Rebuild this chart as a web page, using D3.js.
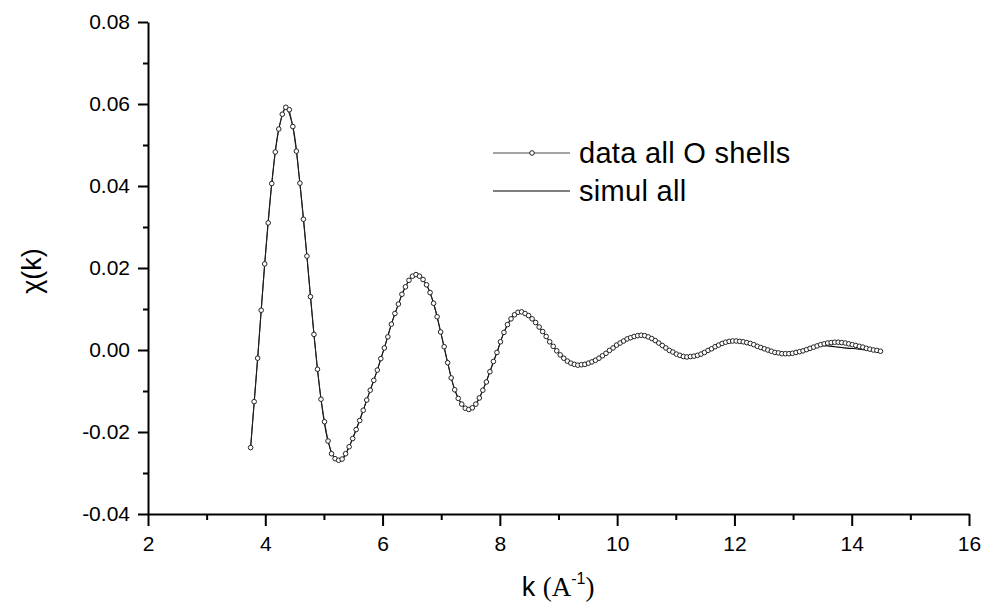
<!DOCTYPE html>
<html>
<head>
<meta charset="utf-8">
<script src="https://cdn.jsdelivr.net/npm/d3@7"></script>
<style>
  body { margin: 0; background: #fff; }
  text { font-family: "Liberation Sans", Arial, sans-serif; fill: #000; }
</style>
</head>
<body>
<script>
// measured data points, k in A^-1
var kData = [
  3.75, 3.81, 3.87, 3.93, 3.99, 4.05, 4.11, 4.17, 4.23, 4.29,
  4.35, 4.41, 4.47, 4.53, 4.59, 4.65, 4.71, 4.77, 4.83, 4.89,
  4.95, 5.01, 5.07, 5.13, 5.19, 5.25, 5.31, 5.37, 5.43, 5.49,
  5.55, 5.61, 5.67, 5.73, 5.79, 5.85, 5.91, 5.97, 6.03, 6.09,
  6.15, 6.21, 6.27, 6.33, 6.39, 6.45, 6.51, 6.57, 6.63, 6.69,
  6.75, 6.81, 6.87, 6.93, 6.99, 7.05, 7.11, 7.17, 7.23, 7.29,
  7.35, 7.41, 7.47, 7.53, 7.59, 7.65, 7.71, 7.77, 7.83, 7.89,
  7.95, 8.01, 8.07, 8.13, 8.19, 8.25, 8.31, 8.37, 8.43, 8.49,
  8.55, 8.61, 8.67, 8.73, 8.79, 8.85, 8.91, 8.97, 9.03, 9.09,
  9.15, 9.21, 9.27, 9.33, 9.39, 9.45, 9.51, 9.57, 9.63, 9.69,
  9.75, 9.81, 9.87, 9.93, 9.99, 10.05, 10.11, 10.17, 10.23, 10.29,
  10.35, 10.41, 10.47, 10.53, 10.59, 10.65, 10.71, 10.77, 10.83, 10.89,
  10.95, 11.01, 11.07, 11.13, 11.19, 11.25, 11.31, 11.37, 11.43, 11.49,
  11.55, 11.61, 11.67, 11.73, 11.79, 11.85, 11.91, 11.97, 12.03, 12.09,
  12.15, 12.21, 12.27, 12.33, 12.39, 12.45, 12.51, 12.57, 12.63, 12.69,
  12.75, 12.81, 12.87, 12.93, 12.99, 13.05, 13.11, 13.17, 13.23, 13.29,
  13.35, 13.41, 13.47, 13.53, 13.59, 13.65, 13.71, 13.77, 13.83, 13.89,
  13.95, 14.01, 14.07, 14.13, 14.19, 14.25, 14.31, 14.37, 14.43, 14.49
];

var chiData = [
  -0.0238, -0.0126, -0.0020, 0.0097, 0.0210, 0.0310, 0.0406, 0.0483, 0.0539, 0.0575,
  0.0592, 0.0586, 0.0545, 0.0485, 0.0407, 0.0319, 0.0229, 0.0130, 0.0038, -0.0047,
  -0.0120, -0.0175, -0.0222, -0.0253, -0.0265, -0.0269, -0.0266, -0.0253, -0.0236, -0.0216,
  -0.0194, -0.0172, -0.0147, -0.0122, -0.0098, -0.0074, -0.0049, -0.0021, 0.0005, 0.0032,
  0.0063, 0.0089, 0.0112, 0.0136, 0.0154, 0.0170, 0.0180, 0.0184, 0.0180, 0.0172,
  0.0159, 0.0140, 0.0114, 0.0081, 0.0044, 0.0008, -0.0031, -0.0068, -0.0097, -0.0118,
  -0.0132, -0.0142, -0.0145, -0.0141, -0.0132, -0.0117, -0.0098, -0.0078, -0.0053, -0.0028,
  -0.0006, 0.0020, 0.0043, 0.0062, 0.0076, 0.0086, 0.0092, 0.0093, 0.0089, 0.0084,
  0.0076, 0.0067, 0.0056, 0.0045, 0.0033, 0.0020, 0.0009, -0.0002, -0.0012, -0.0020,
  -0.0027, -0.0032, -0.0035, -0.0037, -0.0036, -0.0035, -0.0032, -0.0029, -0.0025, -0.0020,
  -0.0014, -0.0008, -0.0001, 0.0005, 0.0012, 0.0017, 0.0022, 0.0027, 0.0030, 0.0033,
  0.0035, 0.0036, 0.0035, 0.0032, 0.0028, 0.0023, 0.0017, 0.0011, 0.0005, -0.0001,
  -0.0005, -0.0010, -0.0013, -0.0016, -0.0017, -0.0016, -0.0015, -0.0013, -0.0010, -0.0006,
  -0.0001, 0.0003, 0.0008, 0.0012, 0.0016, 0.0019, 0.0021, 0.0022, 0.0022, 0.0021,
  0.0020, 0.0018, 0.0016, 0.0013, 0.0009, 0.0006, 0.0003, 0.0000, -0.0003, -0.0006,
  -0.0007, -0.0009, -0.0009, -0.0009, -0.0008, -0.0006, -0.0004, -0.0002, 0.0001, 0.0004,
  0.0007, 0.0010, 0.0013, 0.0015, 0.0017, 0.0018, 0.0019, 0.0019, 0.0018, 0.0017,
  0.0015, 0.0013, 0.0011, 0.0009, 0.0007, 0.0004, 0.0002, 0.0000, -0.0001, -0.0003
];

// simulation curve
var simulK = [
  3.75, 3.87, 3.99, 4.11, 4.23, 4.35, 4.47, 4.59, 4.71, 4.83,
  4.95, 5.07, 5.19, 5.31, 5.43, 5.55, 5.67, 5.79, 5.91, 6.03,
  6.15, 6.27, 6.39, 6.51, 6.63, 6.75, 6.87, 6.99, 7.11, 7.23,
  7.35, 7.47, 7.59, 7.71, 7.83, 7.95, 8.07, 8.19, 8.31, 8.43,
  8.55, 8.67, 8.79, 8.91, 9.03, 9.15, 9.27, 9.39, 9.51, 9.63,
  9.75, 9.87, 9.99, 10.11, 10.23, 10.35, 10.47, 10.59, 10.71, 10.83,
  10.95, 11.07, 11.19, 11.31, 11.43, 11.55, 11.67, 11.79, 11.91, 12.03,
  12.15, 12.27, 12.39, 12.51, 12.63, 12.75, 12.87, 12.99, 13.11, 13.23,
  13.35, 13.47, 13.59, 13.71, 13.83, 13.95, 14.07, 14.19, 14.31, 14.43,
  14.49
];

var simulChi = [
  -0.0238, -0.0020, 0.0210, 0.0406, 0.0539, 0.0592, 0.0545, 0.0407, 0.0229, 0.0038,
  -0.0120, -0.0222, -0.0265, -0.0266, -0.0236, -0.0194, -0.0147, -0.0098, -0.0049, 0.0005,
  0.0063, 0.0112, 0.0154, 0.0180, 0.0180, 0.0159, 0.0114, 0.0044, -0.0031, -0.0097,
  -0.0132, -0.0145, -0.0132, -0.0098, -0.0053, -0.0006, 0.0043, 0.0076, 0.0092, 0.0089,
  0.0076, 0.0056, 0.0033, 0.0009, -0.0012, -0.0027, -0.0035, -0.0036, -0.0032, -0.0025,
  -0.0014, -0.0001, 0.0012, 0.0022, 0.0030, 0.0035, 0.0035, 0.0028, 0.0017, 0.0005,
  -0.0005, -0.0013, -0.0017, -0.0015, -0.0010, -0.0001, 0.0008, 0.0016, 0.0021, 0.0022,
  0.0020, 0.0016, 0.0009, 0.0003, -0.0003, -0.0007, -0.0009, -0.0008, -0.0004, 0.0001,
  0.0006, 0.0010, 0.0010, 0.0008, 0.0006, 0.0004, 0.0003, 0.0001, 0.0000, -0.0002,
  -0.0003
];

var xTicks = [2, 4, 6, 8, 10, 12, 14, 16];
var xMinorTicks = [3, 5, 7, 9, 11, 13, 15];
var yTicks = [-0.04, -0.02, 0.00, 0.02, 0.04, 0.06, 0.08];
var yMinorTicks = [-0.03, -0.01, 0.01, 0.03, 0.05, 0.07];
var legendLabels = ["data all O shells", "simul all"];

var ChiPlot = (function() {

  var width = 982;
  var height = 602;
  var plotLeft = 148, plotRight = 969, plotTop = 22, plotBottom = 514;

  // plain hyphen for negatives, like the original labels
  var yFormat = function(d) {
    return d3.format(".2f")(d).replace("\u2212", "-");
  };

  var init = function() {
    var svg = d3.select("body")
                .append("svg")
                .attr("width", width)
                .attr("height", height);

    var x = d3.scaleLinear().domain([2, 16]).range([plotLeft, plotRight]);
    var y = d3.scaleLinear().domain([-0.04, 0.08]).range([plotBottom, plotTop]);

    // axes
    svg.append("g")
        .attr("transform", "translate(0," + plotBottom + ")")
        .call(d3.axisBottom(x).tickValues(xTicks).tickSize(12).tickSizeOuter(0)
              .tickPadding(10).tickFormat(d3.format("d")));
    svg.append("g")
        .attr("transform", "translate(0," + plotBottom + ")")
        .call(d3.axisBottom(x).tickValues(xMinorTicks).tickSize(6).tickFormat(""))
        .call(function(g) { g.select(".domain").remove(); });

    svg.append("g")
        .attr("transform", "translate(" + plotLeft + ",0)")
        .call(d3.axisLeft(y).tickValues(yTicks).tickSize(10).tickSizeOuter(0)
              .tickPadding(8).tickFormat(yFormat));
    svg.append("g")
        .attr("transform", "translate(" + plotLeft + ",0)")
        .call(d3.axisLeft(y).tickValues(yMinorTicks).tickSize(5).tickFormat(""))
        .call(function(g) { g.select(".domain").remove(); });

    svg.selectAll(".domain, .tick line")
        .attr("stroke", "#000")
        .attr("stroke-width", 2);
    svg.selectAll(".tick text")
        .attr("font-family", "'Liberation Sans', Arial, sans-serif")
        .attr("font-size", "21px")
        .attr("fill", "#000");

    // axis titles
    var xTitle = svg.append("text")
        .attr("x", 558)
        .attr("y", 596)
        .attr("text-anchor", "middle")
        .attr("font-size", "27px");
    xTitle.append("tspan").text("k ");
    xTitle.append("tspan").attr("font-family", "'Liberation Serif', serif").text("(A");
    xTitle.append("tspan").attr("font-size", "16px").attr("dy", -12).text("-1");
    xTitle.append("tspan").attr("font-family", "'Liberation Serif', serif").attr("dy", 12).text(")");

    svg.append("text")
        .attr("transform", "translate(41,271) rotate(-90)")
        .attr("text-anchor", "middle")
        .attr("font-size", "27px")
        .text("\u03c7(k)");

    // simulation line
    var simulLine = d3.line()
        .x(function(d, i) { return x(simulK[i]); })
        .y(function(d) { return y(d); })
        .curve(d3.curveCatmullRom);

    svg.append("path")
        .datum(simulChi)
        .attr("d", simulLine)
        .attr("fill", "none")
        .attr("stroke", "#000")
        .attr("stroke-width", 1.1);

    // data line + open circles
    var dataLine = d3.line()
        .x(function(d, i) { return x(kData[i]); })
        .y(function(d) { return y(d); });

    svg.append("path")
        .datum(chiData)
        .attr("d", dataLine)
        .attr("fill", "none")
        .attr("stroke", "#222")
        .attr("stroke-width", 0.9);

    svg.selectAll("circle.pt")
        .data(chiData)
        .enter()
        .append("circle")
        .attr("class", "pt")
        .attr("cx", function(d, i) { return x(kData[i]); })
        .attr("cy", function(d) { return y(d); })
        .attr("r", 2.3)
        .attr("fill", "#fff")
        .attr("stroke", "#222")
        .attr("stroke-width", 1);

    // legend
    var legend = svg.selectAll("g.legend")
        .data(legendLabels)
        .enter()
        .append("g")
        .attr("class", "legend")
        .attr("transform", function(d, i) {
          return "translate(493," + (153 + i * 38) + ")";
        });

    legend.append("line")
        .attr("x1", 0)
        .attr("x2", 77)
        .attr("stroke", function(d, i) { return i === 0 ? "#333" : "#000"; })
        .attr("stroke-width", function(d, i) { return i === 0 ? 0.9 : 1.1; });

    legend.filter(function(d, i) { return i === 0; })
        .append("circle")
        .attr("cx", 39)
        .attr("r", 2.3)
        .attr("fill", "#fff")
        .attr("stroke", "#222")
        .attr("stroke-width", 1);

    legend.append("text")
        .attr("x", 86)
        .attr("y", 10)
        .attr("font-size", "29px")
        .attr("letter-spacing", "0.3px")
        .text(function(d) { return d; });
  };

  return {
    'init': init
  };
})();

ChiPlot.init();
</script>
</body>
</html>
